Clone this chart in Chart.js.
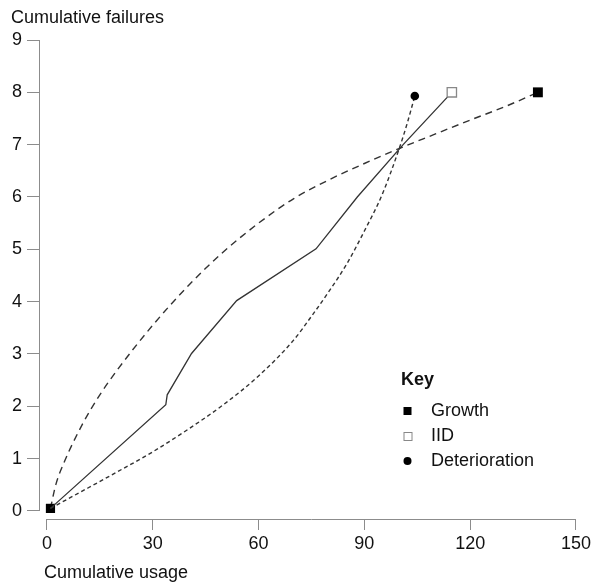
<!DOCTYPE html>
<html><head><meta charset="utf-8">
<script src="https://cdn.jsdelivr.net/npm/chart.js@4.4.0/dist/chart.umd.min.js"></script>
<style>html,body{margin:0;padding:0;background:#fff}#wrap{width:594px;height:587px;position:relative}</style>
</head><body><div id="wrap"><canvas id="c" width="594" height="587"></canvas></div>
<script>
const xTicks = [0, 30, 60, 90, 120, 150];
const yTicks = [0, 1, 2, 3, 4, 5, 6, 7, 8, 9];
const xTitle = 'Cumulative usage';
const yTitle = 'Cumulative failures';
const keyTitle = 'Key';
const seriesNames = ['Growth', 'IID', 'Deterioration'];

const iidX = [1, 33.7, 34.1, 41.0, 53.8, 76.3, 88.0, 101.0, 114.8];
const iidY = [0.05, 2.03, 2.22, 3.01, 4.02, 5.01, 6.0, 7.0, 8.0];

const growthX = [1, 2.5, 5, 10, 15, 20, 30, 40, 50, 60, 70, 80, 90, 100, 110, 120, 130, 139.2];
const growthY = [0.05, 0.5, 0.95, 1.65, 2.22, 2.7, 3.55, 4.3, 4.95, 5.5, 5.97, 6.33, 6.64, 6.93, 7.2, 7.47, 7.73, 8.0];

const detX = [1, 10, 20, 30, 40, 50, 60, 70, 75, 80, 85, 90, 95, 100, 102.2, 104.3];
const detY = [0.05, 0.38, 0.75, 1.13, 1.56, 2.03, 2.58, 3.27, 3.72, 4.2, 4.72, 5.35, 6.04, 6.95, 7.42, 7.93];

const FONT = 'Liberation Sans, Arial, sans-serif';
const FS = 18;
const AXIS_COLOR = '#8c8c8c';
const LINE_COLOR = '#333333';

function pts(xs, ys) { return xs.map((x, i) => ({x: x, y: ys[i]})); }
function endRadius(n, r, first) { return Array.from({length: n}, (_, i) => (i === n - 1 ? r : (first && i === 0 ? first : 0))); }

const decorPlugin = {
  id: 'decor',
  beforeDatasetsDraw(chart) {
    const ctx = chart.ctx, xs = chart.scales.x, ys = chart.scales.y, ca = chart.chartArea;
    ctx.save();
    ctx.strokeStyle = AXIS_COLOR; ctx.lineWidth = 1;
    ctx.beginPath();
    const lx = Math.round(ca.left) + 0.5;
    ctx.moveTo(lx, ys.getPixelForValue(yTicks[0]));
    ctx.lineTo(lx, ys.getPixelForValue(yTicks[yTicks.length - 1]));
    const by = Math.round(ca.bottom) + 0.5;
    ctx.moveTo(xs.getPixelForValue(xTicks[0]), by);
    ctx.lineTo(xs.getPixelForValue(xTicks[xTicks.length - 1]), by);
    ctx.stroke();
    ctx.restore();
  },
  afterDraw(chart) {
    const ctx = chart.ctx;
    ctx.save();
    ctx.fillStyle = '#111';
    ctx.font = FS + 'px ' + FONT;
    ctx.textBaseline = 'alphabetic';
    ctx.textAlign = 'left';
    ctx.fillText(yTitle, 11, 23);
    ctx.fillText(xTitle, 44, 578);
    ctx.font = 'bold ' + FS + 'px ' + FONT;
    ctx.fillText(keyTitle, 401, 385);
    ctx.font = FS + 'px ' + FONT;
    const rows = [416, 441, 466];
    seriesNames.forEach((n, i) => ctx.fillText(n, 431, rows[i]));
    const mx = 407.5;
    ctx.fillStyle = '#000';
    ctx.fillRect(mx - 4, rows[0] - 9, 8, 8);
    ctx.fillStyle = '#fff'; ctx.strokeStyle = '#888'; ctx.lineWidth = 1;
    ctx.fillRect(mx - 4, rows[1] - 9, 8, 8);
    ctx.strokeRect(mx - 3.5, rows[1] - 8.5, 8, 8);
    ctx.fillStyle = '#000';
    ctx.beginPath(); ctx.arc(mx, rows[2] - 5, 4, 0, Math.PI * 2); ctx.fill();
    ctx.restore();
  }
};

const tickFont = {family: FONT, size: FS};

new Chart(document.getElementById('c'), {
  type: 'line',
  data: {
    datasets: [
      {
        label: seriesNames[2], data: pts(detX, detY),
        borderColor: LINE_COLOR, borderWidth: 1.4, borderDash: [4, 3],
        cubicInterpolationMode: 'monotone', fill: false,
        pointStyle: 'circle', pointRadius: endRadius(detX.length, 4.3),
        pointBackgroundColor: '#000', pointBorderColor: '#000', pointBorderWidth: 0
      },
      {
        label: seriesNames[1], data: pts(iidX, iidY),
        borderColor: LINE_COLOR, borderWidth: 1.3, tension: 0, fill: false,
        pointStyle: 'rect', pointRadius: endRadius(iidX.length, 6.6),
        pointBackgroundColor: '#fff', pointBorderColor: '#888', pointBorderWidth: 1.3
      },
      {
        label: seriesNames[0], data: pts(growthX, growthY),
        borderColor: LINE_COLOR, borderWidth: 1.4, borderDash: [7, 5],
        cubicInterpolationMode: 'monotone', fill: false,
        pointStyle: 'rect', pointRadius: endRadius(growthX.length, 7, 6.5),
        pointBackgroundColor: '#000', pointBorderColor: '#000', pointBorderWidth: 0
      }
    ]
  },
  options: {
    responsive: false, animation: false, devicePixelRatio: 1,
    layout: {padding: {top: 40, right: 14, bottom: 28, left: 0}},
    plugins: {legend: {display: false}, tooltip: {enabled: false}, title: {display: false}},
    scales: {
      x: {
        type: 'linear', min: -2.25, max: 150,
        afterBuildTicks: s => { s.ticks = xTicks.map(v => ({value: v})); },
        afterFit: s => { s.height = 40; },
        grid: {display: true, drawOnChartArea: false, drawTicks: true, tickLength: 11, color: AXIS_COLOR, lineWidth: 1},
        border: {display: false},
        ticks: {color: '#111', font: tickFont, padding: 3, maxRotation: 0, autoSkip: false}
      },
      y: {
        type: 'linear', min: -0.153, max: 9,
        afterBuildTicks: s => { s.ticks = yTicks.map(v => ({value: v})); },
        afterFit: s => { s.width = 39; },
        grid: {display: true, drawOnChartArea: false, drawTicks: true, tickLength: 12, color: AXIS_COLOR, lineWidth: 1},
        border: {display: false},
        ticks: {color: '#111', font: tickFont, padding: 5, autoSkip: false}
      }
    }
  },
  plugins: [decorPlugin]
});
</script></body></html>
